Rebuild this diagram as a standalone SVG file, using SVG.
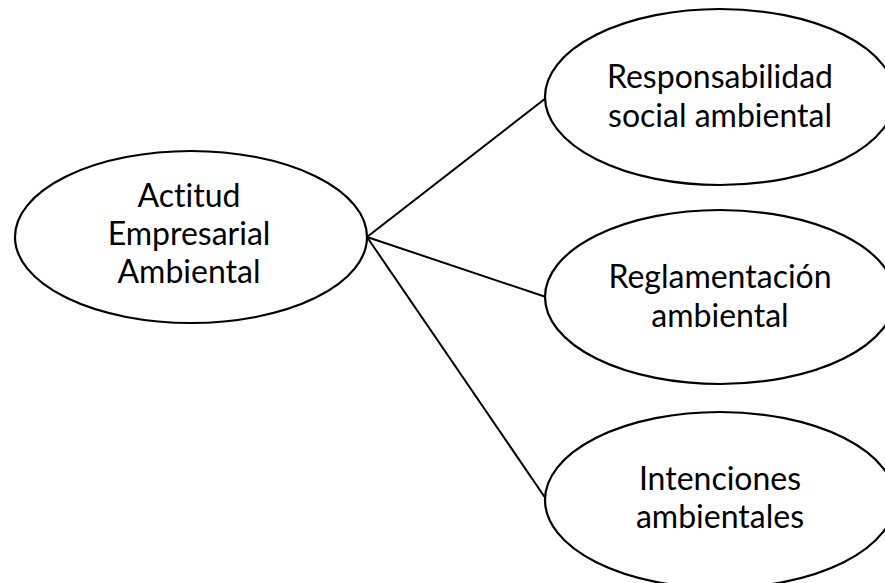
<svg xmlns="http://www.w3.org/2000/svg" width="885" height="583" viewBox="0 0 885 583">
<style>
.node ellipse{fill:#fff;stroke:#000;stroke-width:2.2}
.node text{font-family:Lato,"Open Sans","Liberation Sans",sans-serif;font-size:32px;fill:#000;text-anchor:middle;font-variant-ligatures:none;font-feature-settings:"liga" 0}
.conn line{stroke:#000;stroke-width:2}
</style>
<rect width="885" height="583" fill="#fff"/>
<g id="connectors" class="conn">
<line x1="367" y1="237" x2="546" y2="98"/>
<line x1="367" y1="237" x2="546" y2="297"/>
<line x1="367" y1="237" x2="546" y2="499"/>
</g>
<g id="n-actitud" class="node">
<ellipse cx="191" cy="237" rx="176" ry="86"/>
<text x="189" y="207">Actitud</text>
<text x="189" y="245">Empresarial</text>
<text x="189" y="283">Ambiental</text>
</g>
<g id="n-responsabilidad" class="node">
<ellipse cx="720" cy="97" rx="175" ry="88"/>
<text x="720" y="88">Responsabilidad</text>
<text x="720" y="127">social ambiental</text>
</g>
<g id="n-reglamentacion" class="node">
<ellipse cx="720" cy="297" rx="175" ry="87"/>
<text x="720" y="288">Reglamentación</text>
<text x="720" y="327">ambiental</text>
</g>
<g id="n-intenciones" class="node">
<ellipse cx="720" cy="500" rx="175" ry="88"/>
<text x="720" y="490">Intenciones</text>
<text x="720" y="528">ambientales</text>
</g>
</svg>
